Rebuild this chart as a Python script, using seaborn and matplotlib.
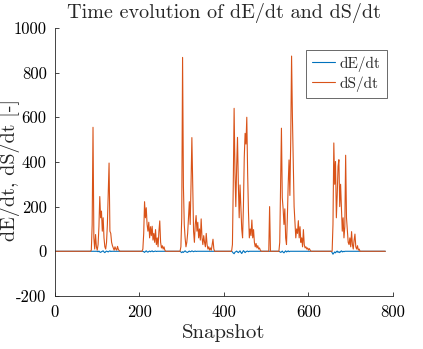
import numpy as np
import pandas as pd
import matplotlib
matplotlib.use('Agg')
import matplotlib.pyplot as plt
import seaborn as sns

last_snapshot = 782

# dS/dt bursts: (first snapshot, values every 2 snapshots)
dS_bursts = [
    (84, [0, 5, 120, 555, 60, 10, 75, 20, 5, 30, 110, 245, 150, 180, 90, 150, 60, 20,
          10, 40, 120, 250, 395, 90, 80, 40, 25, 15, 5, 20, 10, 5, 22, 8, 3, 0]),
    (206, [0, 10, 80, 222, 150, 195, 120, 90, 130, 60, 110, 70, 112, 50, 80, 40, 97,
           30, 60, 20, 90, 136, 40, 15, 25, 10, 20, 5, 0]),
    (296, [0, 20, 150, 868, 290, 120, 60, 20, 40, 80, 150, 222, 120, 300, 509, 300, 90,
           40, 120, 160, 90, 130, 60, 100, 50, 145, 60, 30, 70, 40, 20, 80, 30, 10, 20,
           5, 15, 5, 30, 54, 10, 0]),
    (418, [0, 30, 300, 640, 350, 200, 380, 510, 300, 150, 297, 200, 100, 60, 200, 420,
           528, 480, 600, 350, 175, 60, 100, 70, 140, 60, 97, 40, 20, 35, 15, 25, 10, 15,
           5, 0]),
    (506, [0, 200, 0]),
    (530, [0, 40, 300, 551, 240, 190, 120, 190, 60, 30, 150, 300, 409, 250, 500, 874,
           600, 400, 200, 127, 60, 100, 80, 137, 60, 110, 40, 60, 20, 97, 30, 15, 20, 10,
           15, 5, 12, 5, 0]),
    (656, [0, 120, 485, 300, 402, 150, 250, 380, 410, 200, 300, 200, 90, 150, 60, 110,
           430, 150, 97, 40, 30, 60, 20, 88, 30, 10, 50, 77, 20, 10, 25, 5, 10, 0]),
]

# dE/dt bursts: small wiggles around zero
dE_bursts = [
    (100, [0, -2, 1, -3, -5, -2, 0, 2, -3, -6, -2, 1, -1, -3, 0, 2, -1, 0]),
    (208, [0, -2, -5, -1, 2, -2, -4, -1, 1, -2, 0, 2, -2, -1, 0, 1, -1, 0]),
    (296, [0, -3, -6, -2, -5, -1, 2, -2, -4, -5, -1, 1, -2, -1, 2, 0, -2, 0, 1, -1, 0]),
    (420, [-3, -8, -11, -4, -2, 1, -3, -6, -2, 2, -5, -10, -3, 3, -1, -6, -2, 0, 1,
           -2, 0]),
    (532, [-2, -5, -3, 1, -4, -7, -2, 2, -3, -1, 2, -2, 0]),
    (656, [-6, -13, -8, -3, -7, -2, 1, -5, -2, -6, -1, 2, -3, 0, -2, 0]),
]

snap = np.arange(0, last_snapshot + 1, 2)


def fill(bursts):
    y = np.zeros(len(snap))
    for start, vals in bursts:
        i = start // 2
        y[i:i + len(vals)] = vals
    return y


df = pd.DataFrame({'Snapshot': snap, 'dE/dt': fill(dE_bursts), 'dS/dt': fill(dS_bursts)})

sns.set_style('ticks')
plt.rcParams['font.family'] = ['cmr10', 'DejaVu Serif']
plt.rcParams['axes.unicode_minus'] = False
plt.rcParams['axes.formatter.use_mathtext'] = False

fig = plt.figure(figsize=(4.23, 3.49), dpi=100)
ax = fig.add_axes([0.130, 0.152, 0.799, 0.768])

sns.lineplot(data=df, x='Snapshot', y='dE/dt', color='#0072BD', lw=0.8, ax=ax, label='dE/dt')
sns.lineplot(data=df, x='Snapshot', y='dS/dt', color='#D95319', lw=0.8, ax=ax, label='dS/dt')

ax.set_xlim(0, 800)
ax.set_ylim(-200, 1000)
ax.set_xticks([0, 200, 400, 600, 800])
ax.set_yticks(range(-200, 1001, 200))
ax.set_title('Time evolution of dE/dt and dS/dt', fontsize=14.5, pad=7)
ax.set_xlabel('Snapshot', fontsize=15, labelpad=3)
ax.set_ylabel('dE/dt, dS/dt [-]', fontsize=14.5)
ax.yaxis.set_label_coords(-0.105, 0.47)
ax.tick_params(direction='in', length=3, width=0.6, labelsize=12, colors='#262626', pad=6)
for lbl in ax.get_xticklabels() + ax.get_yticklabels():
    lbl.set_color('black')
sns.despine(ax=ax)
for s in ['left', 'bottom']:
    ax.spines[s].set_color('#262626')
    ax.spines[s].set_linewidth(0.6)

leg = ax.legend(loc='upper right', bbox_to_anchor=(0.982, 0.918), borderaxespad=0,
                fontsize=11, frameon=True, fancybox=False, handlelength=1.5,
                handletextpad=0.35, borderpad=0.4, labelspacing=0.3)
leg.get_frame().set_edgecolor('#262626')
leg.get_frame().set_linewidth(0.6)

fig.savefig('out.png', dpi=100)
